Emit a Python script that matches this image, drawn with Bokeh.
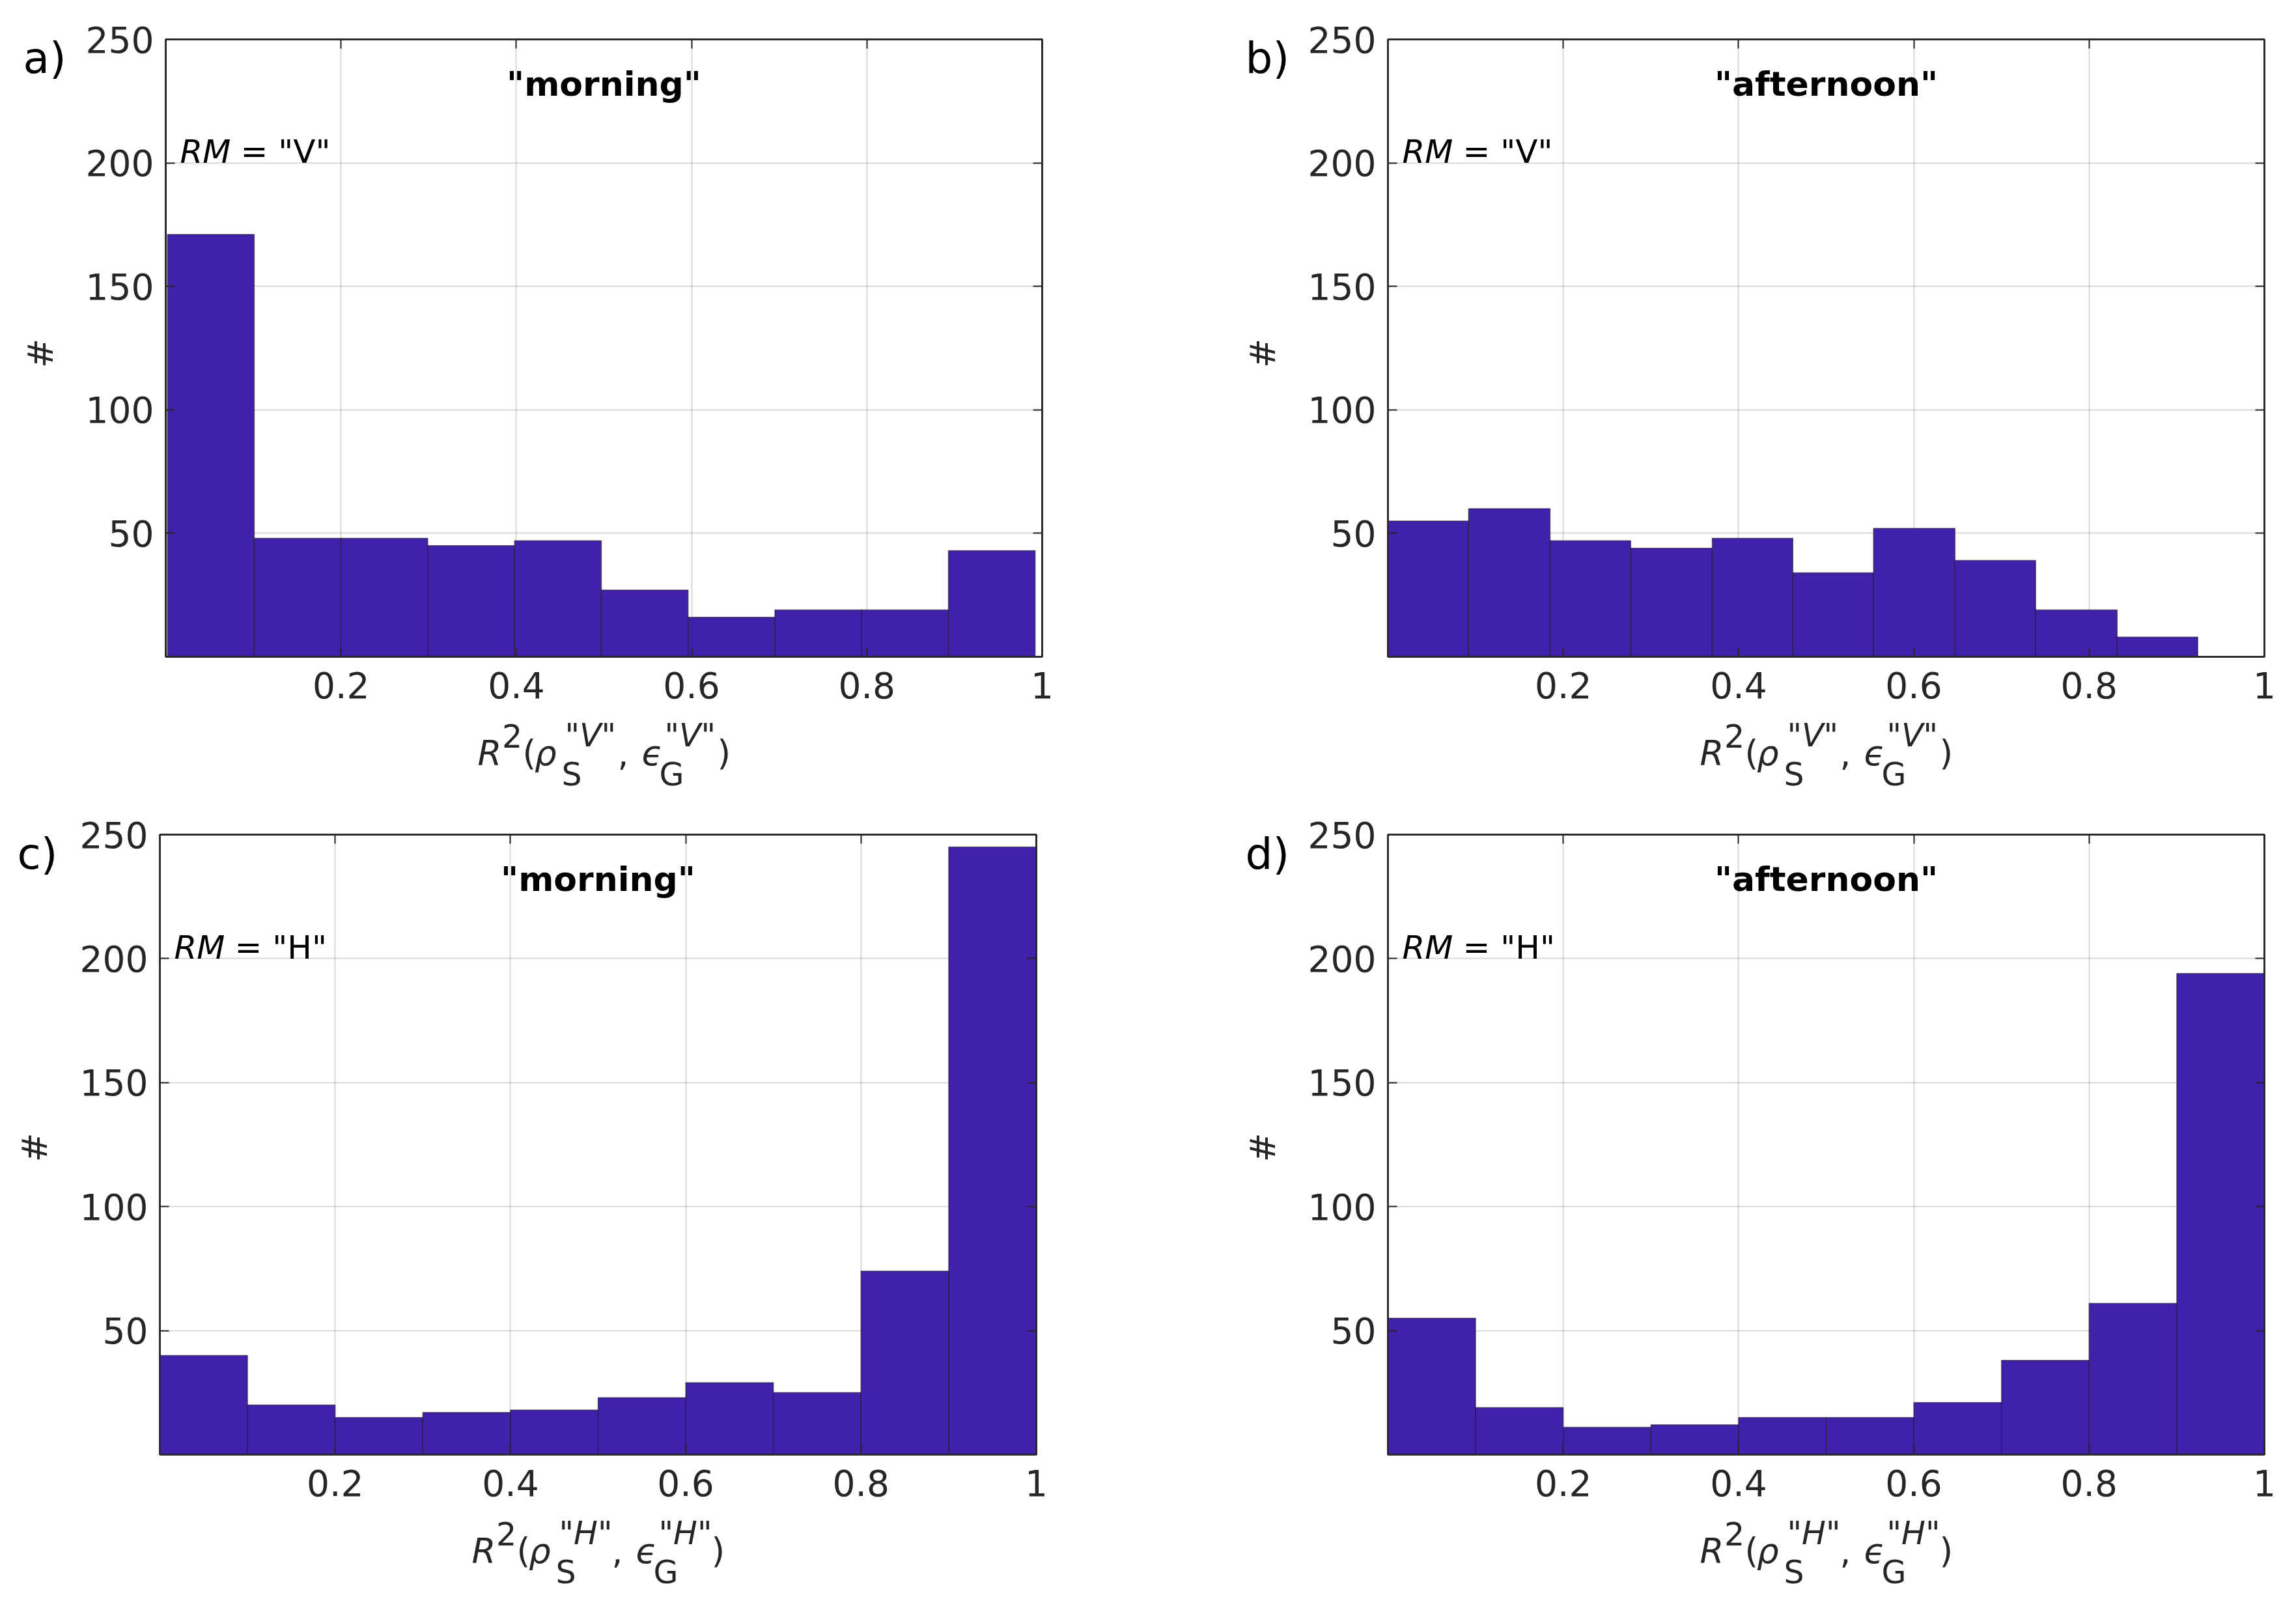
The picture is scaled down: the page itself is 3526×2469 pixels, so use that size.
import math
from bokeh.plotting import figure
from bokeh.models import Label, LinearAxis, FixedTicker
from bokeh.layouts import column, row
from bokeh.embed import file_html
from bokeh.resources import INLINE

# ---------------- data ----------------
x_ticks = [0.2, 0.4, 0.6, 0.8, 1.0]
x_tick_labels = ["0.2", "0.4", "0.6", "0.8", "1"]
y_ticks = [50, 100, 150, 200, 250]
y_tick_labels = ["50", "100", "150", "200", "250"]

edges_a = [0.002, 0.101, 0.200, 0.299, 0.398, 0.497, 0.596, 0.695, 0.794, 0.893, 0.992]
counts_a = [171, 48, 48, 45, 47, 27, 16, 19, 19, 43]

edges_b = [0.000, 0.092, 0.185, 0.277, 0.370, 0.462, 0.554, 0.647, 0.739, 0.832, 0.924]
counts_b = [55, 60, 47, 44, 48, 34, 52, 39, 19, 8]

edges_c = [0.0, 0.1, 0.2, 0.3, 0.4, 0.5, 0.6, 0.7, 0.8, 0.9, 1.0]
counts_c = [40, 20, 15, 17, 18, 23, 29, 25, 74, 245]

edges_d = [0.0, 0.1, 0.2, 0.3, 0.4, 0.5, 0.6, 0.7, 0.8, 0.9, 1.0]
counts_d = [55, 19, 11, 12, 15, 15, 21, 38, 61, 194]

titles = ['"morning"', '"afternoon"', '"morning"', '"afternoon"']
rm_values = ['"V"', '"V"', '"H"', '"H"']
panel_letters = ["a)", "b)", "c)", "d)"]
y_label = "#"

# ---------------- style / geometry ----------------
FONT = "DejaVu Sans"
AX_COLOR = "#262626"
BAR_COLOR = "#4121A9"
FW = 1346          # frame width
ML = 130           # main figure left border (tick labels)
MB = 90            # main figure bottom border (tick labels)


def blank_fig(w, h):
    f = figure(width=w, height=h, x_range=(0, w), y_range=(0, h),
               output_backend="svg", toolbar_location=None,
               x_axis_location=None, y_axis_location=None,
               min_border=0, min_border_left=0, min_border_right=0,
               min_border_top=0, min_border_bottom=0)
    f.outline_line_color = None
    f.grid.visible = False
    f.background_fill_color = "white"
    f.border_fill_color = "white"
    return f


def make_main(edges, counts, title, rm, fh, rb, mt):
    p = figure(frame_width=FW, frame_height=fh, x_range=(0, 1), y_range=(0, 250),
               output_backend="svg", toolbar_location=None,
               min_border_left=ML, min_border_right=rb,
               min_border_top=mt, min_border_bottom=MB)
    p.background_fill_color = "white"
    p.border_fill_color = "white"
    p.outline_line_color = AX_COLOR
    p.outline_line_width = 2.5

    p.quad(left=edges[:-1], right=edges[1:], top=counts, bottom=0,
           fill_color=BAR_COLOR, line_color="#1a1a1a", line_alpha=0.55, line_width=1.5)

    p.xgrid.ticker = FixedTicker(ticks=x_ticks)
    p.ygrid.ticker = FixedTicker(ticks=y_ticks)
    for g in (p.xgrid[0], p.ygrid[0]):
        g.grid_line_color = "#000000"
        g.grid_line_alpha = 0.15
        g.grid_line_width = 2

    xa = p.xaxis[0]
    xa.ticker = FixedTicker(ticks=x_ticks)
    xa.major_label_overrides = dict(zip(x_ticks, x_tick_labels))
    ya = p.yaxis[0]
    ya.ticker = FixedTicker(ticks=y_ticks)
    ya.major_label_overrides = dict(zip(y_ticks, y_tick_labels))
    for ax in (xa, ya):
        ax.major_label_text_font = FONT
        ax.major_label_text_font_size = "55px"
        ax.major_label_text_color = AX_COLOR
        ax.major_tick_in = 14
        ax.major_tick_out = 0
        ax.major_tick_line_color = AX_COLOR
        ax.major_tick_line_width = 2
        ax.minor_tick_line_color = None
        ax.axis_line_color = AX_COLOR
        ax.axis_line_width = 2.5
    xa.major_label_standoff = 23
    ya.major_label_standoff = 18

    top_ax = LinearAxis(ticker=FixedTicker(ticks=x_ticks),
                        major_label_overrides={t: "" for t in x_ticks})
    right_ax = LinearAxis(ticker=FixedTicker(ticks=y_ticks),
                          major_label_overrides={t: "" for t in y_ticks})
    for ax in (top_ax, right_ax):
        ax.major_tick_in = 14
        ax.major_tick_out = 0
        ax.major_tick_line_color = AX_COLOR
        ax.major_tick_line_width = 2
        ax.minor_tick_line_color = None
        ax.axis_line_color = AX_COLOR
        ax.axis_line_width = 2.5
        ax.major_label_standoff = 0
        ax.major_label_text_font_size = "2px"
    p.add_layout(top_ax, "above")
    p.add_layout(right_ax, "right")

    p.add_layout(Label(x=0.5, y=250, y_offset=-68, text=title, text_align="center",
                       text_baseline="alphabetic", text_font=FONT,
                       text_font_size="52px", text_font_style="bold", text_color="black"))
    p.add_layout(Label(x=0, y=200, x_offset=22, y_offset=17, text="RM",
                       text_baseline="alphabetic", text_font=FONT,
                       text_font_size="50px", text_font_style="italic", text_color="black"))
    p.add_layout(Label(x=0, y=200, x_offset=115, y_offset=17, text="= " + rm,
                       text_baseline="alphabetic", text_font=FONT,
                       text_font_size="50px", text_font_style="normal", text_color="black"))
    return p


def make_side(sw, fh, letter, mt):
    h = mt + fh + MB
    s = blank_fig(sw, h)
    # panel letter (level with the "250" tick label)
    s.add_layout(Label(x=sw - 89, y=h - 34, text=letter, text_baseline="alphabetic",
                       text_align="left", text_font=FONT, text_font_size="66px",
                       text_color="black"))
    # y-axis title "#"
    s.add_layout(Label(x=sw - 62, y=h - mt - fh / 2 - 24, text=y_label, angle=math.pi / 2,
                       text_baseline="middle", text_align="center", text_font=FONT,
                       text_font_size="54px", text_color=AX_COLOR))
    return s


def make_bottom(sw, rb, bh, rm):
    w = sw + ML + FW + rb
    b = blank_fig(w, bh)
    pieces = [
        ("R", 0, 0, 53, "italic"),
        ("2", 37.5, 27, 49, "normal"),
        ("(", 69, 0, 53, "normal"),
        ("\u03c1", 87.5, 0, 53, "italic"),
        ("S", 129, -33, 49, "normal"),
        (rm, 134, 27, 49, "italic"),
        (",", 215, 0, 53, "normal"),
        ("\u03f5", 252, 0, 53, "italic"),
        ("G", 279, -33, 49, "normal"),
        (rm, 287, 27, 49, "italic"),
        (")", 368, 0, 53, "normal"),
    ]
    x0 = sw + ML + FW / 2 - 194
    y0 = bh - 58
    for txt, dx, dy, size, style in pieces:
        b.add_layout(Label(x=x0 + dx, y=y0 + dy, text=txt,
                           text_baseline="alphabetic", text_align="left", text_font=FONT,
                           text_font_size=f"{size}px", text_font_style=style,
                           text_color=AX_COLOR))
    return b


def panel(edges, counts, idx, sw, rb, fh, bh, mt):
    main = make_main(edges, counts, titles[idx], rm_values[idx], fh, rb, mt)
    side = make_side(sw, fh, panel_letters[idx], mt)
    bottom = make_bottom(sw, rb, bh, rm_values[idx])
    return column(row(side, main), bottom)


pa = panel(edges_a, counts_a, 0, 124, 284, 948, 131, 60)
pb = panel(edges_b, counts_b, 1, 117, 20, 948, 131, 60)
pc = panel(edges_c, counts_c, 2, 115, 293, 952, 132, 52)
pd = panel(edges_d, counts_d, 3, 117, 20, 952, 132, 52)

layout = column(row(pa, pb), row(pc, pd))

open("out.html", "w").write(file_html(layout, INLINE))
